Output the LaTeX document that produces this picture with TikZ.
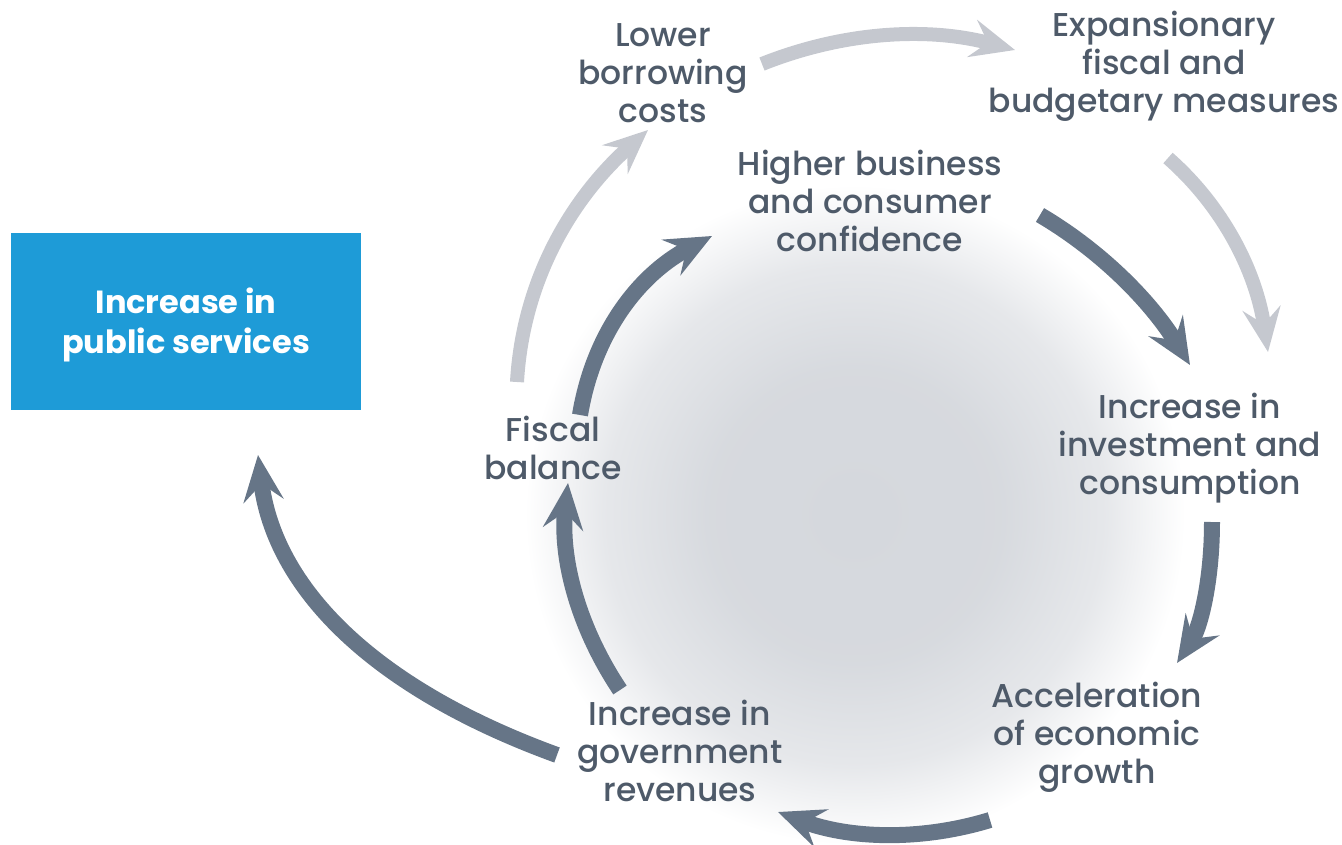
\documentclass[tikz,border=0pt]{standalone}
\usepackage{fontspec}
\setmainfont{Poppins}
\newfontfamily\labfont{Poppins Medium}
\usetikzlibrary{arrows.meta}
\definecolor{txtc}{HTML}{4E5A69}
\definecolor{darkarr}{HTML}{667587}
\definecolor{lightarr}{HTML}{C5C8CF}
\definecolor{boxblue}{HTML}{1E9BD7}
\definecolor{glowc}{HTML}{D5D8DD}
\pgfdeclareradialshading{glow}{\pgfpoint{0bp}{0bp}}{color(0bp)=(glowc); color(11bp)=(glowc!96!white); color(19bp)=(glowc!60!white); color(25bp)=(white); color(50bp)=(white)}
\tikzset{
  lbl/.style={text=txtc, align=center, font=\labfont\fontsize{33}{38}\selectfont, inner sep=0pt},
  darrow/.style={draw=darkarr, line width=16pt, -{Stealth[length=46pt, width=40pt, inset=17pt]}},
  larrow/.style={draw=lightarr, line width=14pt, -{Stealth[length=44pt, width=38pt, inset=16pt]}},
}
\begin{document}
\begin{tikzpicture}[x=1pt,y=-1pt]
\useasboundingbox (0,0) rectangle (1342,844);
\begin{scope}
\clip (0,0) rectangle (1342,844);
\shade[shading=glow] (855,515) circle (330);
\end{scope}

\node[fill=boxblue, minimum width=350pt, minimum height=177pt, inner sep=0pt] (box) at (186,321.5) {};
\node[text=white, align=center, font=\bfseries\fontsize{32}{40}\selectfont] (boxt) at (186,325) {Increase in\\public services};

\node[lbl] (lbc) at (663,73) {Lower\\borrowing\\costs};
\node[lbl] (efm) at (1164,66) {Expansionary\\fiscal and\\budgetary measures};
\node[lbl] (hbc) at (870,201) {Higher business\\and consumer\\confidence};
\node[lbl] (iic) at (1190,448) {Increase in\\investment and\\consumption};
\node[lbl] (aeg) at (1097,737) {Acceleration\\of economic\\growth};
\node[lbl] (igr) at (680,751) {Increase in\\government\\revenues};
\node[lbl] (fb) at (553,448) {Fiscal\\balance};

\coordinate (a1s) at (762,64);   \coordinate (a1e) at (1015,50);
\coordinate (a2s) at (1168,158); \coordinate (a2e) at (1268,352);
\coordinate (a3s) at (1040,215); \coordinate (a3e) at (1190,365);
\coordinate (a4s) at (1212,522); \coordinate (a4e) at (1177,663);
\coordinate (a5s) at (990,820);  \coordinate (a5e) at (778,812);
\coordinate (a6s) at (620,690);  \coordinate (a6e) at (568,483);
\coordinate (a7s) at (557,755);  \coordinate (a7e) at (258,455);
\coordinate (a8s) at (580,415);  \coordinate (a8e) at (712,236);
\coordinate (a9s) at (517,382);  \coordinate (a9e) at (648,130);

\draw[larrow] (a1s) .. controls (844,31.3) and (928.3,26.7) .. (a1e);
\draw[larrow] (a2s) .. controls (1222.7,206) and (1256,270.7) .. (a2e);
\draw[darrow] (a3s) .. controls (1100,250.3) and (1150,300.3) .. (a3e);
\draw[darrow] (a4s) .. controls (1212,580.7) and (1200.3,627.7) .. (a4e);
\draw[darrow] (a5s) .. controls (920,841.3) and (849.3,838.7) .. (a5e);
\draw[darrow] (a6s) .. controls (577.3,626) and (560,557) .. (a6e);
\draw[darrow] (a7s) .. controls (373.7,688.3) and (274,588.3) .. (a7e);
\draw[darrow] (a8s) .. controls (593.3,335) and (637.3,275.3) .. (a8e);
\draw[larrow] (a9s) .. controls (522.3,287.3) and (566,203.3) .. (a9e);
\end{tikzpicture}
\end{document}
